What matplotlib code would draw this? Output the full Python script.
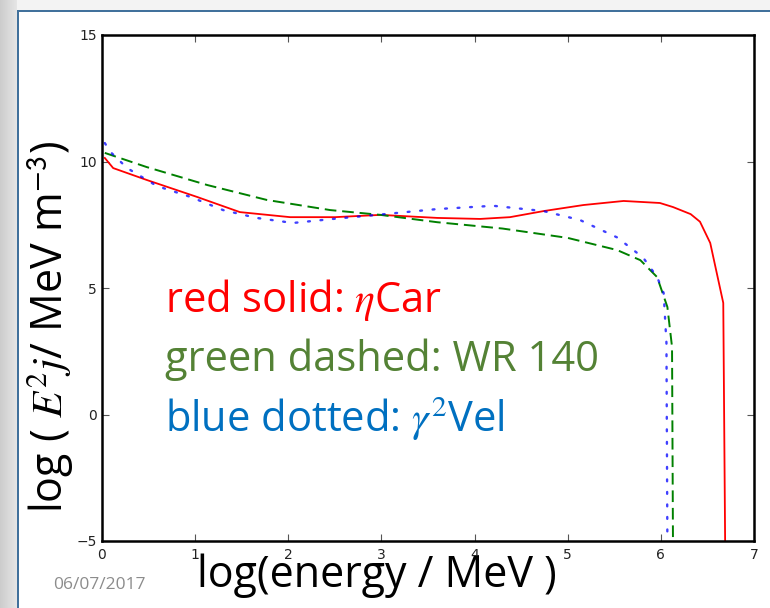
import numpy as np
import matplotlib
matplotlib.use("Agg")
from matplotlib import pyplot as plt
from matplotlib.patches import Rectangle

plt.rcParams['mathtext.fontset'] = 'stix'

# spectra, log(E/MeV) vs log(E^2 j)
xRed = [0.03, 0.12, 0.48, 1.02, 1.48, 2.02, 2.5, 2.99, 3.6, 4.06, 4.38, 4.74,
        5.17, 5.6, 5.99, 6.13, 6.32, 6.42, 6.53, 6.67, 6.69]
yRed = [10.14, 9.74, 9.27, 8.6, 8.0, 7.8, 7.8, 7.89, 7.77, 7.73, 7.8, 8.04,
        8.28, 8.44, 8.36, 8.2, 7.92, 7.62, 6.78, 4.41, -5]

xGreen = [0.03, 0.48, 1.13, 1.77, 2.45, 2.99, 3.6, 4.3, 5.0, 5.53, 5.78, 5.96,
          6.07, 6.12, 6.13]
yGreen = [10.34, 9.78, 9.07, 8.48, 8.08, 7.89, 7.6, 7.35, 6.98, 6.5, 6.1, 5.43,
          4.25, 2.67, -5]

xBlue = [0.03, 0.09, 0.27, 0.59, 0.95, 1.3, 1.66, 2.05, 2.48, 2.95, 3.6, 4.2,
         4.74, 5.13, 5.53, 5.81, 5.96, 6.03, 6.06, 6.07]
yBlue = [10.73, 10.38, 9.74, 9.03, 8.6, 8.08, 7.77, 7.57, 7.73, 7.89, 8.12, 8.25,
         8.04, 7.69, 7.0, 6.2, 5.43, 4.8, 2.83, -5]

xTicks = [0, 1, 2, 3, 4, 5, 6, 7]
yTicks = [-5, 0, 5, 10, 15]

W, H = 770, 608
fig = plt.figure(figsize=(W/100., H/100.), dpi=100, facecolor='#f3f3f3')

# slide background: grey side strip, white page with a blue edge
grad = np.linspace(0.80, 0.90, 64).reshape(1, -1)
bg = fig.add_axes([0, 0, 17./W, 1], zorder=-5)
bg.imshow(grad, aspect='auto', cmap='gray', vmin=0, vmax=1, extent=[0, 1, 0, 1])
bg.axis('off')
fig.patches.append(Rectangle((17./W, 0), 1, 1-10./H, transform=fig.transFigure,
                             facecolor='white', edgecolor='none', zorder=-3))
fig.patches.append(Rectangle((17./W, 1-12./H), 1, 2./H, transform=fig.transFigure,
                             facecolor='#41719c', edgecolor='none', zorder=-2))
fig.patches.append(Rectangle((17./W, 0), 2./W, 1-10./H, transform=fig.transFigure,
                             facecolor='#41719c', edgecolor='none', zorder=-2))

ax = fig.add_axes([102./W, 1-541./H, (754.-102.)/W, (541.-35.)/H])
ax.plot(xRed, yRed, color='r', lw=1.3)
ax.plot(xGreen, yGreen, color='g', lw=1.4, linestyle=(0, (6, 3)))
ax.plot(xBlue, yBlue, color='b', lw=1.7, linestyle=(0, (0.8, 4.5)),
        dash_capstyle='round', alpha=0.75)

ax.set_xlim(0, 7)
ax.set_ylim(-5, 15)
ax.set_xticks(xTicks)
ax.set_yticks(yTicks)
ax.set_xticklabels(['%d' % t for t in xTicks])
ax.set_yticklabels(['\u2212%d' % -t if t < 0 else '%d' % t for t in yTicks])
ax.tick_params(direction='in', top=True, right=True, length=5, width=0.8,
               labelsize=10, color='#555555', labelcolor='#222222')
ax.tick_params(axis='x', pad=5)
for sp in ax.spines.values():
    sp.set_linewidth(1.8)
ax.set_facecolor('white')

font = ['Open Sans', 'DejaVu Sans']
ax.text(165./W, 1-300./H, r'red solid: $\eta$Car', transform=fig.transFigure,
        color='#ff0000', fontsize=30, family=font, va='center')
ax.text(165./W, 1-360./H, 'green dashed: WR 140', transform=fig.transFigure,
        color='#548235', fontsize=30, family=font, va='center')
ax.text(165./W, 1-419./H, r'blue dotted: $\gamma^2$Vel', transform=fig.transFigure,
        color='#0070c0', fontsize=30, family=font, va='center')

fig.text(50./W, 1-327./H, r'log ( $E^2 j$/ MeV m$^{\mathsf{-3}}$)', rotation=90,
         fontsize=31, family=font, ha='center', va='center')
fig.text(377./W, 1-576./H, 'log(energy / MeV )', fontsize=31, family=font,
         ha='center', va='center')
fig.text(99./W, 1-585./H, '06/07/2017', fontsize=12.5, family=font,
         color='#8c8c8c', ha='center', va='center')

fig.savefig('out.png', dpi=100, facecolor=fig.get_facecolor())
